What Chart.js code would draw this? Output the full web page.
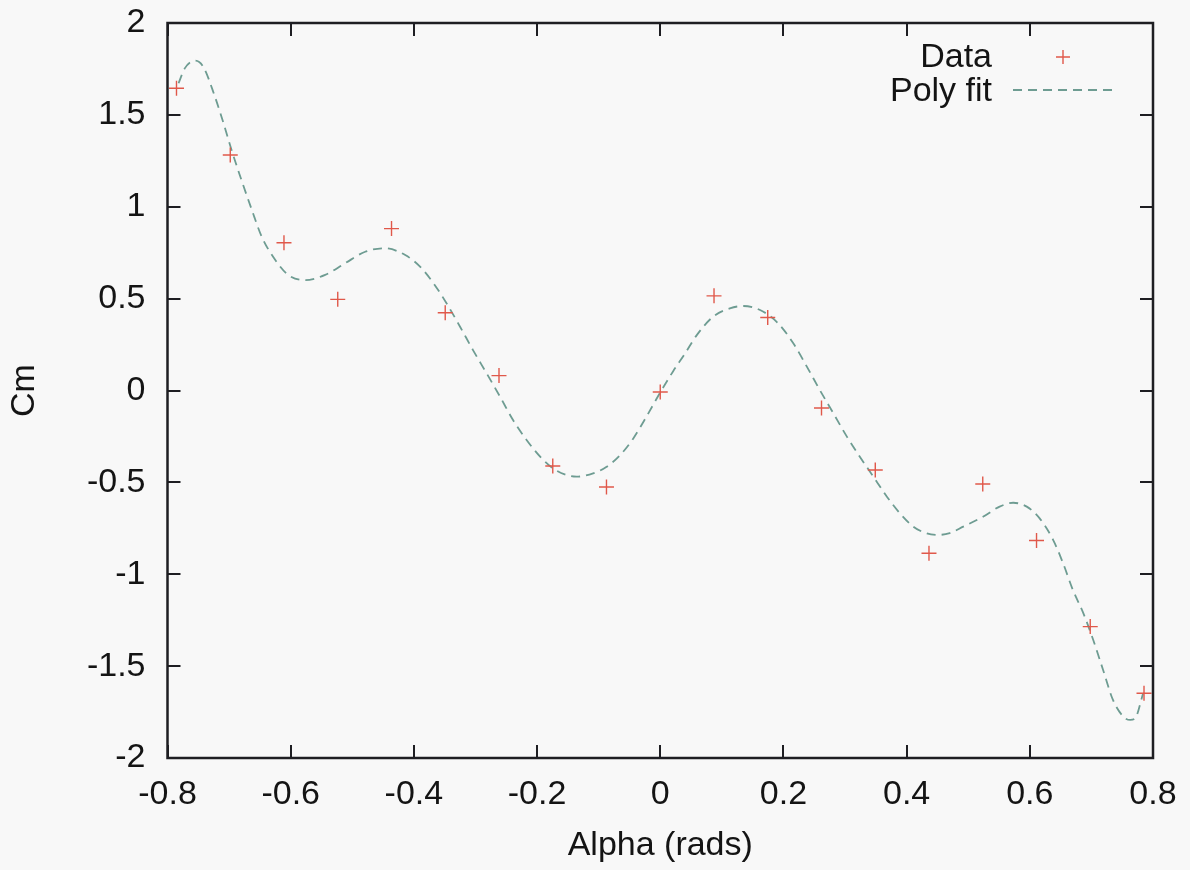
<!DOCTYPE html>
<html>
<head>
<meta charset="utf-8">
<script src="https://cdn.jsdelivr.net/npm/chart.js@4/dist/chart.umd.min.js"></script>
<style>
  html, body { margin: 0; padding: 0; background: #f8f8f8; }
  canvas { display: block; }
</style>
</head>
<body>
<canvas id="c" width="1190" height="870"></canvas>
<script>
// ---- Data ----
const dataAlpha = [-0.7854, -0.6981, -0.6109, -0.5236, -0.4363, -0.3491, -0.2618, -0.1745, -0.0873, 0.0,
                   0.0873, 0.1745, 0.2618, 0.3491, 0.4363, 0.5236, 0.6109, 0.6981, 0.7854];
const dataCm = [1.645, 1.282, 0.804, 0.496, 0.881, 0.423, 0.081, -0.411, -0.525, -0.008,
                0.515, 0.397, -0.095, -0.433, -0.886, -0.509, -0.816, -1.285, -1.648];

const fitAlpha = [-0.782, -0.772, -0.755, -0.742, -0.723, -0.709, -0.696, -0.680, -0.663, -0.647,
                  -0.625, -0.604, -0.577, -0.544, -0.512, -0.479, -0.447, -0.414, -0.390, -0.368,
                  -0.347, -0.325, -0.304, -0.282, -0.260, -0.239, -0.217, -0.195, -0.174, -0.152,
                  -0.136, -0.109, -0.087, -0.065, -0.044, -0.022, 0.000, 0.021, 0.040, 0.059,
                  0.086, 0.113, 0.135, 0.162, 0.189, 0.216, 0.238, 0.259, 0.281, 0.303,
                  0.324, 0.346, 0.368, 0.389, 0.411, 0.432, 0.451, 0.470, 0.492, 0.524,
                  0.551, 0.573, 0.595, 0.616, 0.638, 0.654, 0.670, 0.687, 0.703, 0.719,
                  0.735, 0.752, 0.763, 0.771, 0.784];
const fitCm = [1.672, 1.753, 1.795, 1.762, 1.599, 1.454, 1.309, 1.146, 0.982, 0.837,
               0.710, 0.629, 0.601, 0.629, 0.692, 0.755, 0.774, 0.737, 0.674, 0.583,
               0.475, 0.347, 0.220, 0.094, -0.034, -0.161, -0.269, -0.360, -0.424, -0.460,
               -0.469, -0.451, -0.415, -0.351, -0.262, -0.140, -0.010, 0.105, 0.200, 0.300,
               0.402, 0.447, 0.460, 0.438, 0.374, 0.257, 0.130, 0.003, -0.124, -0.251,
               -0.360, -0.469, -0.578, -0.668, -0.741, -0.777, -0.786, -0.776, -0.741, -0.687,
               -0.632, -0.611, -0.632, -0.696, -0.814, -0.940, -1.086, -1.213, -1.358, -1.521,
               -1.684, -1.775, -1.793, -1.784, -1.648];

const xTickValues = [-0.8, -0.6, -0.4, -0.2, 0, 0.2, 0.4, 0.6, 0.8];
const xTickLabels = ['-0.8', '-0.6', '-0.4', '-0.2', '0', '0.2', '0.4', '0.6', '0.8'];
const yTickValues = [-2, -1.5, -1, -0.5, 0, 0.5, 1, 1.5, 2];
const yTickLabels = ['-2', '-1.5', '-1', '-0.5', '0', '0.5', '1', '1.5', '2'];

const seriesLabels = ['Data', 'Poly fit'];
const xTitle = 'Alpha (rads)';
const yTitle = 'Cm';

// ---- Styles ----
const FONT = "'Liberation Sans', Arial, Helvetica, sans-serif";
const dataColor = '#e0584a';
const fitColor = '#6e9c92';
const fitDash = [9, 6];

const points = dataAlpha.map((x, i) => ({ x: x, y: dataCm[i] }));
const fit = fitAlpha.map((x, i) => ({ x: x, y: fitCm[i] }));

function labelFor(values, labels) {
  return function (v) {
    for (let i = 0; i < values.length; i++) {
      if (Math.abs(values[i] - v) < 1e-9) return labels[i];
    }
    return '';
  };
}

function zeroPadding(scale) {
  scale.paddingTop = 0;
  scale.paddingBottom = 0;
  scale.paddingLeft = 0;
  scale.paddingRight = 0;
}

const bgPlugin = {
  id: 'bg',
  beforeDraw(chart) {
    const ctx = chart.ctx;
    ctx.save();
    ctx.fillStyle = '#f8f8f8';
    ctx.fillRect(0, 0, chart.width, chart.height);
    ctx.restore();
  }
};

const framePlugin = {
  id: 'frame',
  afterDatasetsDraw(chart) {
    const ctx = chart.ctx;
    const a = chart.chartArea;
    const xs = chart.scales.x, ys = chart.scales.y;
    const tl = 13;
    ctx.save();
    ctx.strokeStyle = '#1e1e22';
    ctx.lineWidth = 2;
    ctx.beginPath();
    xTickValues.forEach(v => {
      const px = Math.round(xs.getPixelForValue(v));
      ctx.moveTo(px, a.bottom); ctx.lineTo(px, a.bottom - tl);
      ctx.moveTo(px, a.top); ctx.lineTo(px, a.top + tl);
    });
    yTickValues.forEach(v => {
      const py = Math.round(ys.getPixelForValue(v));
      ctx.moveTo(a.left, py); ctx.lineTo(a.left + tl, py);
      ctx.moveTo(a.right, py); ctx.lineTo(a.right - tl, py);
    });
    ctx.stroke();
    ctx.lineWidth = 2.5;
    ctx.strokeRect(a.left, a.top, a.right - a.left, a.bottom - a.top);
    ctx.restore();

    // Legend (top right, text right-aligned, sample to the right)
    const ds = chart.data.datasets;
    ctx.save();
    ctx.font = '34px ' + FONT;
    ctx.fillStyle = '#141414';
    ctx.textAlign = 'right';
    ctx.textBaseline = 'alphabetic';
    const textRight = 992;
    ctx.fillText(ds[0].label, textRight, 67);
    ctx.fillText(ds[1].label, textRight, 101);
    ctx.strokeStyle = dataColor;
    ctx.lineWidth = 1.4;
    ctx.beginPath();
    ctx.moveTo(1063 - 7, 57); ctx.lineTo(1063 + 7, 57);
    ctx.moveTo(1063, 57 - 7); ctx.lineTo(1063, 57 + 7);
    ctx.stroke();
    ctx.strokeStyle = fitColor;
    ctx.lineWidth = 1.8;
    ctx.setLineDash(fitDash);
    ctx.beginPath();
    ctx.moveTo(1013, 90); ctx.lineTo(1112, 90);
    ctx.stroke();
    ctx.restore();
  }
};

new Chart(document.getElementById('c'), {
  type: 'scatter',
  data: {
    datasets: [
      {
        label: seriesLabels[0],
        data: points,
        showLine: false,
        pointStyle: 'cross',
        pointRadius: 7.5,
        pointHoverRadius: 7.5,
        borderColor: dataColor,
        backgroundColor: dataColor,
        pointBorderWidth: 1.4,
        order: 1
      },
      {
        label: seriesLabels[1],
        data: fit,
        showLine: true,
        pointRadius: 0,
        pointHoverRadius: 0,
        borderColor: fitColor,
        borderWidth: 1.8,
        borderDash: fitDash,
        cubicInterpolationMode: 'monotone',
        fill: false,
        order: 2
      }
    ]
  },
  options: {
    responsive: false,
    animation: false,
    devicePixelRatio: 1,
    layout: { padding: { top: 23, right: 37, left: 0, bottom: 0 } },
    plugins: {
      legend: { display: false },
      tooltip: { enabled: false }
    },
    scales: {
      x: {
        type: 'linear',
        min: -0.8, max: 0.8,
        afterFit(scale) { scale.height = 112; zeroPadding(scale); },
        afterBuildTicks(scale) { scale.ticks = xTickValues.map(v => ({ value: v })); },
        grid: { display: false, drawTicks: false },
        border: { display: false },
        ticks: {
          padding: 16,
          color: '#141414',
          font: { family: FONT, size: 34 },
          maxRotation: 0,
          autoSkip: false,
          callback: labelFor(xTickValues, xTickLabels)
        },
        title: {
          display: true,
          text: xTitle,
          color: '#141414',
          font: { family: FONT, size: 34 },
          padding: { top: 0, bottom: 4 }
        }
      },
      y: {
        type: 'linear',
        min: -2, max: 2,
        afterFit(scale) { scale.width = 167.5; zeroPadding(scale); },
        afterBuildTicks(scale) { scale.ticks = yTickValues.map(v => ({ value: v })); },
        grid: { display: false, drawTicks: false },
        border: { display: false },
        ticks: {
          padding: 22,
          color: '#141414',
          font: { family: FONT, size: 34 },
          autoSkip: false,
          callback: labelFor(yTickValues, yTickLabels)
        },
        title: {
          display: true,
          text: yTitle,
          color: '#141414',
          font: { family: FONT, size: 34 },
          padding: { top: 4, bottom: 0 }
        }
      }
    }
  },
  plugins: [bgPlugin, framePlugin]
});
</script>
</body>
</html>
